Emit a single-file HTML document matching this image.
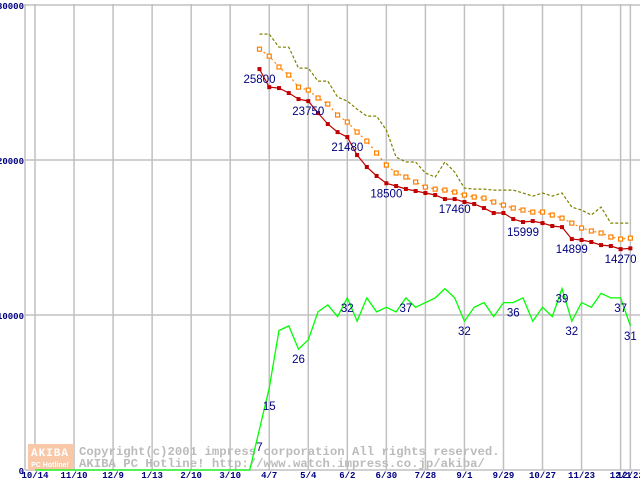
<!DOCTYPE html>
<html><head><meta charset="utf-8"><style>
html,body{margin:0;padding:0;background:#fff;}
svg{display:block;}
</style></head><body>
<svg id="chart" width="640" height="480" xmlns="http://www.w3.org/2000/svg" font-family="Liberation Mono, monospace">
<g id="grid"></g>
<g id="watermark">
<rect x="28" y="444" width="45" height="26" fill="#f8c8a8"/>
<text x="50" y="456" text-anchor="middle" font-size="11" font-weight="bold" fill="#fff" letter-spacing="1">AKIBA</text>
<text x="50" y="467" text-anchor="middle" font-size="7" font-weight="bold" fill="#fff" font-family="Liberation Sans, sans-serif">PC Hotline!</text>
<text x="79" y="455" font-size="12.3" font-weight="bold" fill="#bbbbbb">Copyright(c)2001 impress corporation All rights reserved.</text>
<text x="79" y="467" font-size="12.3" font-weight="bold" fill="#bbbbbb">AKIBA PC Hotline!  http://www.watch.impress.co.jp/akiba/</text>
</g>
<g id="series"></g>
<g id="labels"></g>
<g id="axes"></g>
</svg>
<script>
const xTickLabels = ["10/14","11/10","12/9","1/13","2/10","3/10","4/7","5/4","6/2","6/30","7/28","9/1","9/29","10/27","11/23","12/1","12/22"];
const xTickIndex = [0,4,8,12,16,20,24,28,32,36,40,44,48,52,56,60,61];
const yTicks = [0,10000,20000,30000];
const startIndex = 23;
const redValues = [25865,24700,24640,24320,23930,23800,23030,22320,21800,21480,20320,19550,18970,18500,18320,18130,18000,17870,17740,17480,17480,17290,17160,16900,16580,16580,16190,16000,16060,15930,15740,15670,14900,14840,14710,14510,14450,14250,14300];
const orangeValues = [27150,26700,26000,25480,24700,24510,24000,23610,22900,22450,21800,21220,20450,19670,19160,18900,18580,18250,18120,18060,17930,17740,17610,17540,17290,17090,16900,16770,16640,16640,16450,16250,15930,15610,15420,15290,15030,14900,14960];
const oliveValues = [28120,28120,27280,27280,25930,25930,25090,25090,24060,23800,23280,22830,22830,21930,20190,19870,19870,19160,18900,19870,19220,18190,18120,18120,18060,18060,18060,17870,17670,17870,17670,17870,16960,16770,16450,16960,15930,15930,15930];
const countValues = [0,0,0,0,0,0,0,0,0,0,0,0,0,0,0,0,0,0,0,0,0,0,0,8.8,17.6,30,31,26,28,34,35.5,33,37,32,37,34,35,34,37,35,36,37,39,37,32,35,36,33,36,36,37,32,35,33,39,32,36,35,38,37,37,31];
const countScale = 300;
const priceLabelIdx = [23,28,32,36,43,50,55,60];
const priceLabelText = ["25800","23750","21480","18500","17460","15999","14899","14270"];
const countLabelIdx = [23,24,27,32,38,44,49,54,55,60,61];
const countLabelText = ["7","15","26","32","37","32","36","39","32","37","31"];

const NS="http://www.w3.org/2000/svg";
const X0=35, DX=9.76, Y0=470, PY=15.5/1000;
const xs=i=>X0+i*DX;
const ys=v=>Y0-v*PY;
function mk(tag,attrs,parent){const e=document.createElementNS(NS,tag);for(const k in attrs)e.setAttribute(k,attrs[k]);parent.appendChild(e);return e;}
const grid=document.getElementById('grid'),axes=document.getElementById('axes'),ser=document.getElementById('series'),lab=document.getElementById('labels');

yTicks.forEach(v=>{
  const l=mk('line',{x1:25,x2:640,y1:ys(v),y2:ys(v),stroke:'#c0c0c0','stroke-width':1.5},grid);
  
  
  const t=mk('text',{x:24,y:ys(v)+4,'text-anchor':'end','font-size':9,'font-weight':'bold',fill:'#000080'},axes);
  
  
  t.textContent=String(v);
});
xTickIndex.forEach((i,k)=>{
  const l=mk('line',{x1:xs(i),x2:xs(i),y1:4,y2:470,stroke:'#c0c0c0','stroke-width':1.5},grid);
  
  
  const t=mk('text',{x:xs(i),y:478,'text-anchor':'middle','font-size':9,'font-weight':'bold',fill:'#000080'},axes);
  
  
  t.textContent=xTickLabels[k];
});
const yl=mk('line',{x1:25,x2:25,y1:4,y2:470,stroke:'#c0c0c0','stroke-width':1.5},grid);



function pts(vals,off,f){return vals.map((v,j)=>xs(j+off).toFixed(1)+','+f(v).toFixed(1)).join(' ');}
const ol=mk('polyline',{points:pts(oliveValues,startIndex,ys),fill:'none',stroke:'#808000','stroke-width':1.2,'stroke-dasharray':'3,2'},ser);


const orl=mk('polyline',{points:pts(orangeValues,startIndex,ys),fill:'none',stroke:'#ff8000','stroke-width':1.2,'stroke-dasharray':'2,3'},ser);


orangeValues.forEach((v,j)=>{
  const r=mk('rect',{x:xs(j+startIndex)-2,y:ys(v)-2,width:4,height:4,fill:'#fff',stroke:'#ff8000','stroke-width':1.2},ser);
  
  
});
const rl=mk('polyline',{points:pts(redValues,startIndex,ys),fill:'none',stroke:'#c00000','stroke-width':1.2},ser);


redValues.forEach((v,j)=>{
  const r=mk('rect',{x:xs(j+startIndex)-2,y:ys(v)-2,width:4,height:4,fill:'#c00000'},ser);
  
  
});
const gl=mk('polyline',{points:pts(countValues,0,c=>ys(c*countScale)),fill:'none',stroke:'#00ff00','stroke-width':1.3},ser);



priceLabelIdx.forEach((i,k)=>{
  const t=mk('text',{x:xs(i),y:ys(redValues[i-startIndex])+14,'text-anchor':'middle','font-size':11.5,fill:'#000080','font-family':'Liberation Sans, sans-serif'},lab);
  
  
  t.textContent=priceLabelText[k];
});
countLabelIdx.forEach((i,k)=>{
  const t=mk('text',{x:xs(i),y:ys(countValues[i]*countScale)+(k<2?22:14),'text-anchor':'middle','font-size':11.5,fill:'#000080','font-family':'Liberation Sans, sans-serif'},lab);
  
  
  t.textContent=countLabelText[k];
});
</script>
</body></html>
